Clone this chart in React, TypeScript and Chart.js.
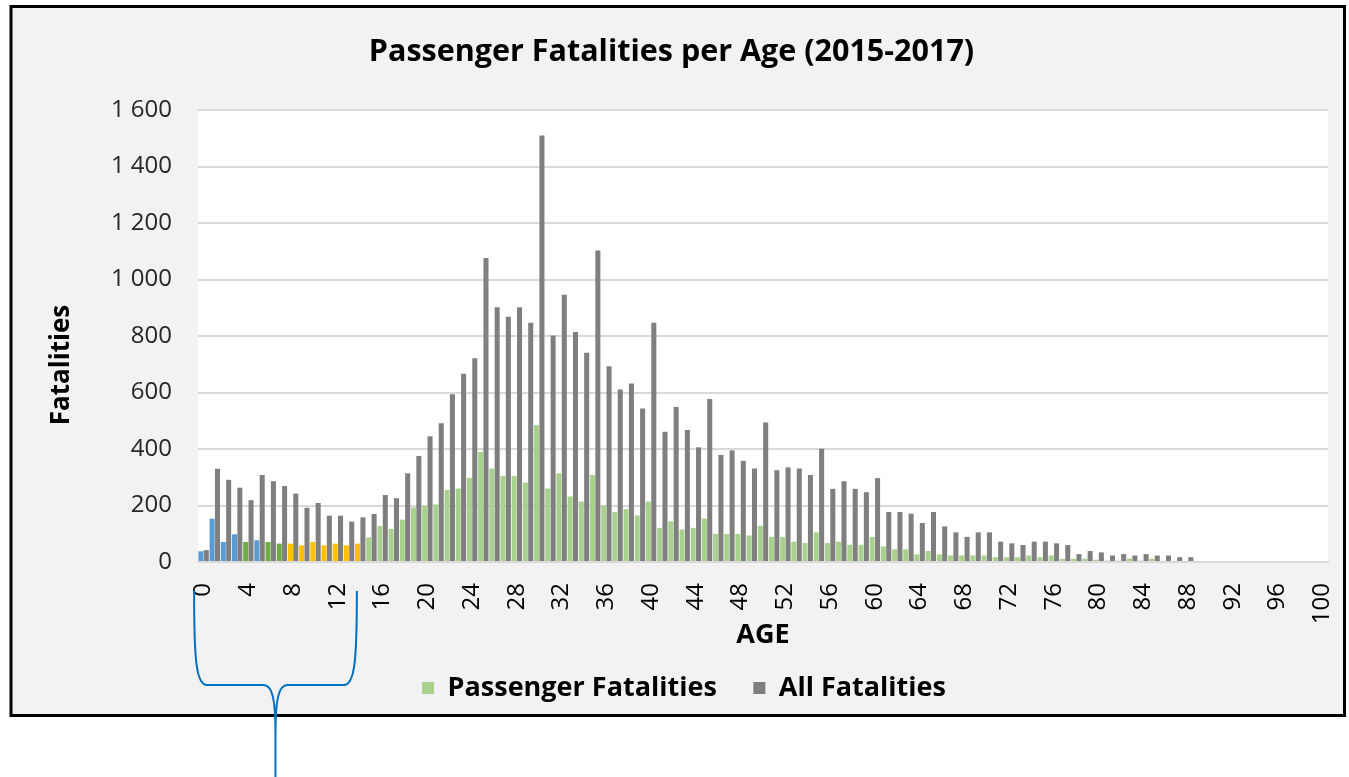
import React, { useEffect, useRef } from "react";
import { Chart, registerables } from "chart.js";

Chart.register(...registerables);

// Categories: ages 0..100
const ages: string[] = Array.from({ length: 101 }, (_, i) => String(i));

// Passenger fatalities per age
const passengerFatalities: number[] = [
  38, 153, 71, 98, 71, 77, 71, 65, 65, 59,
  71, 59, 65, 59, 65, 87, 127, 117, 150, 193,
  199, 204, 255, 260, 298, 390, 331, 304, 304, 281,
  484, 260, 314, 232, 214, 308, 199, 177, 187, 165,
  214, 121, 144, 115, 121, 154, 99, 99, 99, 94,
  128, 89, 89, 72, 67, 105, 67, 72, 61, 61,
  89, 55, 45, 45, 27, 39, 27, 23, 23, 23,
  23, 17, 17, 17, 23, 17, 23, 11, 12, 12,
  8, 5, 5, 12, 5, 12, 4, 3, 3, 0,
  0, 0, 0, 0, 0, 0, 0, 0, 0, 0,
  0,
];

// All fatalities per age
const allFatalities: number[] = [
  42, 330, 291, 263, 219, 308, 286, 269, 242, 192,
  209, 164, 164, 143, 158, 170, 237, 226, 314, 375,
  445, 491, 594, 666, 721, 1076, 902, 868, 902, 847,
  1510, 802, 946, 814, 741, 1103, 693, 611, 632, 543,
  847, 461, 549, 467, 406, 577, 379, 395, 358, 331,
  494, 325, 335, 331, 308, 401, 259, 286, 259, 247,
  297, 177, 177, 171, 138, 177, 126, 105, 89, 105,
  105, 72, 66, 60, 72, 72, 66, 60, 28, 39,
  34, 23, 28, 23, 28, 23, 23, 17, 17, 0,
  0, 0, 0, 0, 0, 0, 0, 0, 0, 0,
  0,
];

// Highlighted child age groups
const blueAges: number[] = [0, 1, 2, 3, 5];
const greenAges: number[] = [4, 6, 7];
const yellowAges: number[] = [8, 9, 10, 11, 12, 13, 14];

const seriesNames: string[] = ["Passenger Fatalities", "All Fatalities"];
const chartTitle = "Passenger Fatalities per Age (2015-2017)";
const yTitle = "Fatalities";
const xTitle = "AGE";

const C_PASS = "#A9D18E";
const C_ALL = "#7F7F7F";
const C_BLUE = "#5B9BD5";
const C_GREEN = "#70AD47";
const C_YELLOW = "#FFC000";
const FONT = "'Open Sans'";

const passengerColors = ages.map((_, i) =>
  blueAges.includes(i) ? C_BLUE : greenAges.includes(i) ? C_GREEN : yellowAges.includes(i) ? C_YELLOW : C_PASS
);

const framePlugin = {
  id: "frameAndBracket",
  beforeDraw(chart: any) {
    const { ctx, chartArea: a, width, height } = chart;
    ctx.save();
    ctx.fillStyle = "#ffffff";
    ctx.fillRect(0, 0, width, height);
    ctx.fillStyle = "#F2F2F2";
    ctx.fillRect(11, 6.5, 1333.5, 709);
    ctx.fillStyle = "#ffffff";
    ctx.fillRect(a.left, a.top, a.right - a.left, a.bottom - a.top);
    ctx.restore();
  },
  afterDraw(chart: any) {
    const { ctx, chartArea: a } = chart;
    ctx.save();
    // outer frame
    ctx.lineWidth = 3;
    ctx.strokeStyle = "#000000";
    ctx.strokeRect(11, 6.5, 1333.5, 709);
    // chart title
    ctx.fillStyle = "#000000";
    ctx.textAlign = "center";
    ctx.textBaseline = "middle";
    ctx.font = `bold 30.5px ${FONT}`;
    ctx.fillText(chartTitle, 671.5, 52);
    // y axis title
    ctx.save();
    ctx.translate(62, (a.top + a.bottom) / 2 + 29);
    ctx.rotate(-Math.PI / 2);
    ctx.font = `bold 26px ${FONT}`;
    ctx.fillText(yTitle, 0, 0);
    ctx.restore();
    // bracket under ages 0-13
    const xs = chart.scales.x;
    const step = xs.getPixelForValue(1) - xs.getPixelForValue(0);
    const L = xs.getPixelForValue(0) - 0.85 * step;
    const R = xs.getPixelForValue(13) + 0.7 * step;
    const M = (L + R) / 2;
    const yTop = 591, yMid = 685, yJoin = 733, yBot = 780;
    ctx.strokeStyle = "#0070C0";
    ctx.lineWidth = 2;
    ctx.beginPath();
    ctx.moveTo(L, yTop);
    ctx.bezierCurveTo(L, yMid - 25, L + 2, yMid, L + 13, yMid);
    ctx.lineTo(M - 12, yMid);
    ctx.bezierCurveTo(M - 3, yMid, M, yMid + 15, M, yJoin);
    ctx.lineTo(M, yBot);
    ctx.moveTo(R, yTop);
    ctx.bezierCurveTo(R, yMid - 25, R - 2, yMid, R - 13, yMid);
    ctx.lineTo(M + 12, yMid);
    ctx.bezierCurveTo(M + 3, yMid, M, yMid + 15, M, yJoin);
    ctx.stroke();
    ctx.restore();
  },
};

export default function App() {
  const ref = useRef<HTMLCanvasElement | null>(null);
  useEffect(() => {
    if (!ref.current) return;
    const chart = new Chart(ref.current, {
      type: "bar",
      data: {
        labels: ages,
        datasets: [
          {
            label: seriesNames[0],
            data: passengerFatalities,
            backgroundColor: passengerColors,
            categoryPercentage: 0.96,
            barPercentage: 0.94,
          },
          {
            label: seriesNames[1],
            data: allFatalities,
            backgroundColor: C_ALL,
            categoryPercentage: 0.96,
            barPercentage: 0.94,
          },
        ],
      },
      options: {
        responsive: false,
        animation: false,
        devicePixelRatio: 1,
        layout: { padding: { left: 40, right: 21, top: 110, bottom: 65.5 } },
        plugins: {
          title: { display: false },
          legend: {
            position: "bottom",
            labels: {
              color: "#000000",
              font: { family: FONT, size: 27, weight: "bold" },
              boxWidth: 12,
              boxHeight: 12,
              padding: 22.5,
              generateLabels: (ch: any) =>
                ch.data.datasets.map((ds: any, i: number) => ({
                  text: i === 0 ? ds.label + "  " : ds.label,
                  fillStyle: i === 0 ? C_PASS : C_ALL,
                  strokeStyle: i === 0 ? C_PASS : C_ALL,
                  lineWidth: 0,
                  hidden: false,
                  datasetIndex: i,
                  fontColor: "#000000",
                })),
            },
          },
          tooltip: { enabled: false },
        },
        scales: {
          x: {
            grid: { display: false, drawTicks: false },
            border: { display: true, color: "#D9D9D9", width: 2 },
            afterFit: (s: any) => {
              s.height = 90;
              s.paddingLeft = 0;
              s.paddingRight = 0;
            },
            ticks: {
              autoSkip: false,
              minRotation: 90,
              maxRotation: 90,
              padding: 21,
              color: "#000000",
              font: { family: FONT, size: 24 },
              callback: (_v: any, i: number) => (i % 4 === 0 ? ages[i] : null),
            },
            title: {
              display: true,
              text: xTitle,
              color: "#000000",
              font: { family: FONT, size: 27, weight: "bold" },
              padding: { top: 0, bottom: 0 },
            },
          },
          y: {
            min: 0,
            max: 1600,
            afterFit: (s: any) => {
              s.width = 158;
            },
            grid: { color: "#D9D9D9", lineWidth: 2, drawTicks: false },
            border: { display: false },
            ticks: {
              stepSize: 200,
              padding: 26,
              color: "#262626",
              font: { family: FONT, size: 24 },
              callback: (v: any) => String(v).replace(/\B(?=(\d{3})+(?!\d))/g, " "),
            },
          },
        },
      },
      plugins: [framePlugin],
    } as any);
    return () => chart.destroy();
  }, []);
  return (
    <div style={{ position: "fixed", left: 0, top: 0, width: 1349, height: 777, background: "#fff" }}>
      <canvas ref={ref} width={1349} height={777} style={{ display: "block" }} />
    </div>
  );
}
